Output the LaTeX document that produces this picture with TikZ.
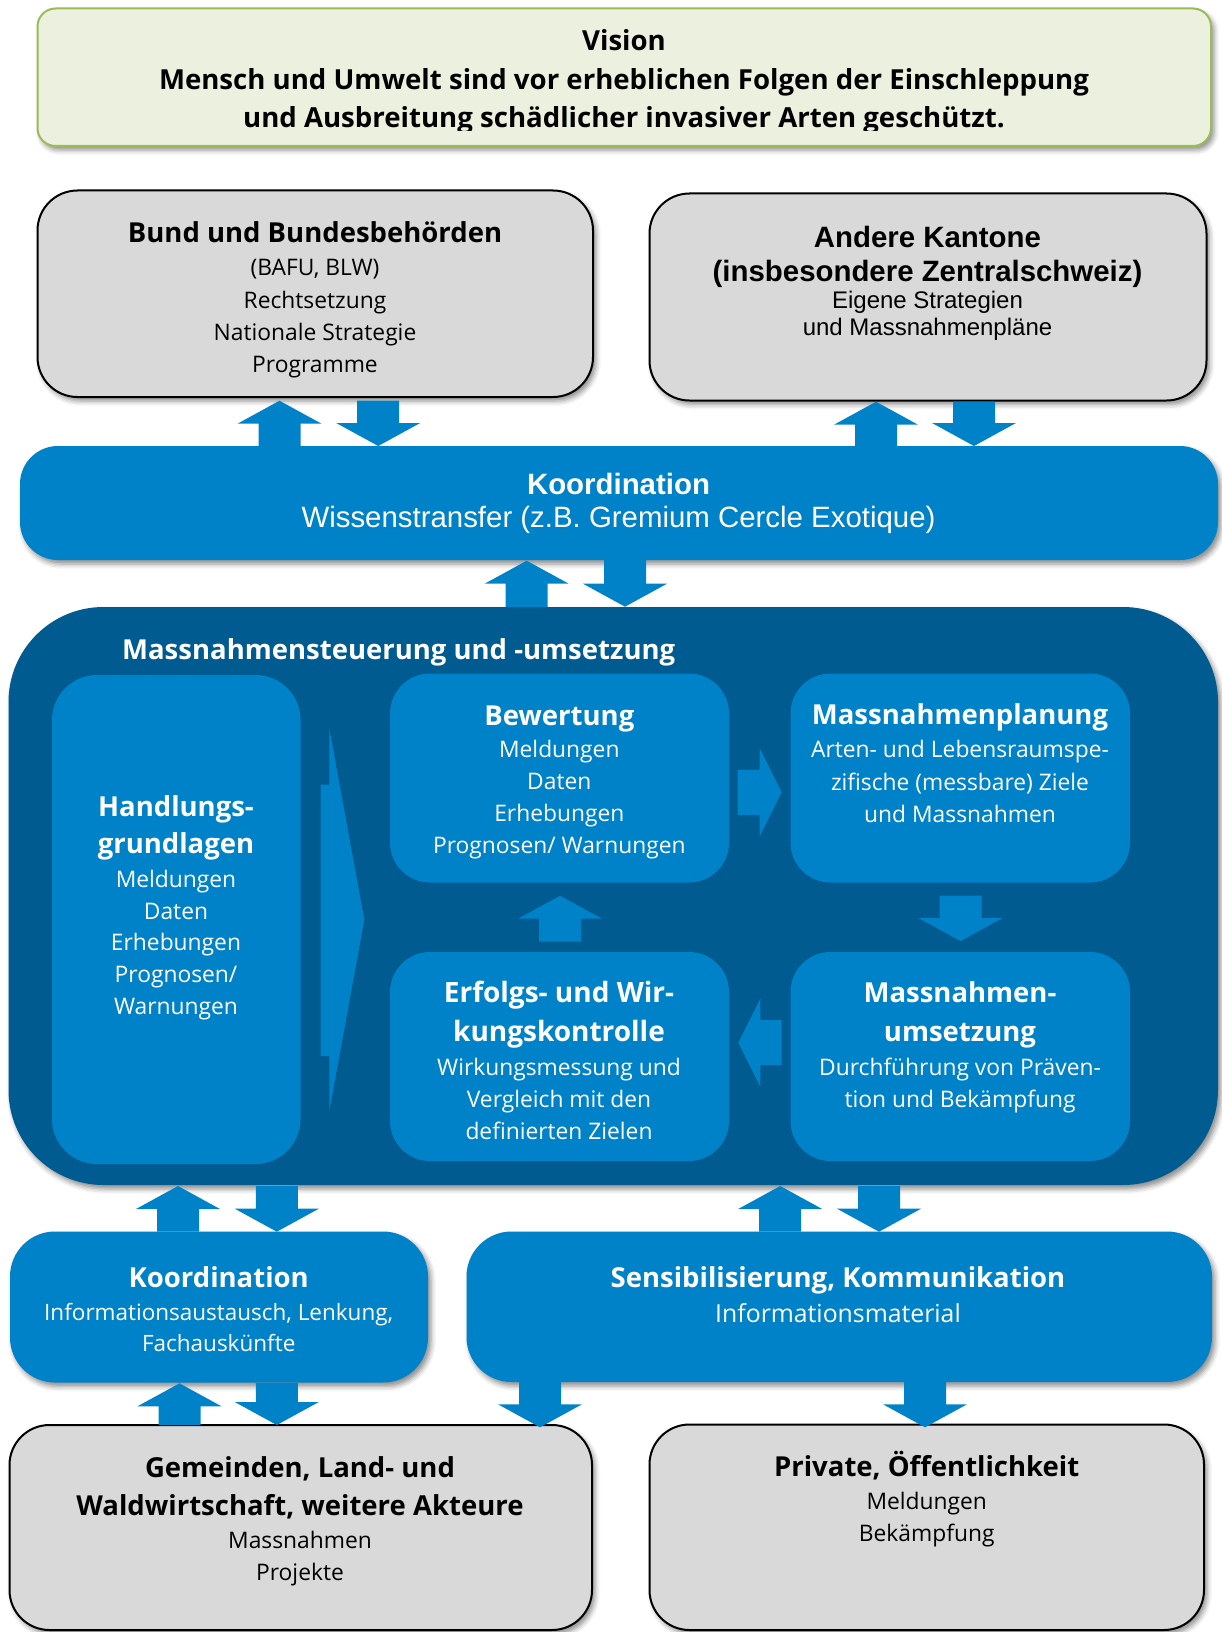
\documentclass[tikz,border=0pt]{standalone}
\usepackage{fontspec}
\setmainfont{Open Sans}
\newfontfamily\arialf{Liberation Sans}
\usetikzlibrary{shadows.blur}
\definecolor{lblue}{RGB}{0,130,200}
\definecolor{dblue}{RGB}{0,91,145}
\definecolor{gbox}{RGB}{217,217,217}
\definecolor{vfill}{RGB}{235,241,222}
\definecolor{vline}{RGB}{155,187,89}
\tikzset{
  sh/.style={blur shadow={shadow xshift=3pt, shadow yshift=-4pt, shadow blur radius=5pt, shadow opacity=45}},
  graybox/.style={draw=black, line width=2pt, fill=gbox, rounded corners=40pt, inner sep=0pt, sh},
  bluebox/.style={fill=lblue, inner sep=0pt},
  blk/.style={fill=lblue},
  ttl/.style={anchor=base, inner sep=0pt, font=\fontsize{27.5}{33}\selectfont\bfseries},
  reg/.style={anchor=base, inner sep=0pt, font=\fontsize{22.8}{28}\selectfont},
  vis/.style={anchor=base, inner sep=0pt, font=\fontsize{27.6}{32}\selectfont\bfseries},
  attl/.style={anchor=base, inner sep=0pt, font=\arialf\fontsize{29.4}{33}\selectfont\bfseries},
  areg/.style={anchor=base, inner sep=0pt, font=\arialf\fontsize{24}{28}\selectfont},
  wh/.style={text=white},
}
\newcommand\blkUp[3]{\fill[blk] (#1-21,#2) -- (#1-21,#3+23) -- (#1-42,#3+23) -- (#1,#3) -- (#1+42,#3+23) -- (#1+21,#3+23) -- (#1+21,#2) -- cycle;}
\newcommand\blkDn[3]{\fill[blk] (#1-21,#2) -- (#1-21,#3-23) -- (#1-42,#3-23) -- (#1,#3) -- (#1+42,#3-23) -- (#1+21,#3-23) -- (#1+21,#2) -- cycle;}
\newcommand\blkRt[3]{\fill[blk] (#2,#1-22.5) -- (#3-22,#1-22.5) -- (#3-22,#1-44) -- (#3,#1) -- (#3-22,#1+44) -- (#3-22,#1+22.5) -- (#2,#1+22.5) -- cycle;}
\newcommand\blkLt[3]{\fill[blk] (#2,#1-22.5) -- (#3+22,#1-22.5) -- (#3+22,#1-44) -- (#3,#1) -- (#3+22,#1+44) -- (#3+22,#1+22.5) -- (#2,#1+22.5) -- cycle;}
\begin{document}
\begin{tikzpicture}[x=1pt,y=-1pt]
\useasboundingbox (0,0) rectangle (1221,1632);

% Vision
\node[draw=vline, line width=2pt, fill=vfill, rounded corners=18pt, inner sep=0pt, minimum width=1173.5pt, minimum height=137.5pt, sh] (vision) at (624.25,77.25) {};
\begin{scope}
\clip (0,0) rectangle (1221,131);
\node[vis] (v1) at (624,51) {Vision};
\node[vis] (v2) at (624,89.4) {Mensch und Umwelt sind vor erheblichen Folgen der Einschleppung};
\node[vis] (v3) at (624,128) {und Ausbreitung schädlicher invasiver Arten geschützt.};
\end{scope}

% Bund
\node[graybox, minimum width=555.5pt, minimum height=206.5pt] (bund) at (315.25,293.75) {};
\node[ttl] (b1) at (315,242.9) {Bund und Bundesbehörden};
\node[reg] (b2) at (315,275.8) {(BAFU, BLW)};
\node[reg] (b3) at (315,308.1) {Rechtsetzung};
\node[reg] (b4) at (315,340.3) {Nationale Strategie};
\node[reg] (b5) at (315,372.3) {Programme};

% Andere Kantone
\node[graybox, minimum width=557pt, minimum height=207pt] (andere) at (928,297) {};
\node[attl] (a1) at (927.5,247) {Andere Kantone};
\node[attl] (a2) at (927.5,281.5) {(insbesondere Zentralschweiz)};
\node[areg] (a3) at (927.5,308.5) {Eigene Strategien};
\node[areg] (a4) at (927.5,335.5) {und Massnahmenpläne};

% Koordination band
\node[bluebox, rounded corners=38pt, minimum width=1198pt, minimum height=114pt, sh] (koord) at (619,503) {};
\node[attl, wh] (k1) at (618.5,494.4) {Koordination};
\node[areg, wh, font=\arialf\fontsize{29.4}{33}\selectfont] (k2) at (618.5,527.4) {Wissenstransfer (z.B. Gremium Cercle Exotique)};

% arrows top
\blkUp{279.5}{446}{400.7}
\blkDn{378.2}{400.7}{446}
\blkUp{876}{446}{401.7}
\blkDn{974}{401.7}{446}

% dark box
\node[fill=dblue, rounded corners=95pt, inner sep=0pt, minimum width=1209.5pt, minimum height=578pt, sh] (dark) at (613.25,896) {};
\node[ttl, wh, anchor=base west] (d1) at (122,659.4) {Massnahmensteuerung und -umsetzung};

\blkUp{526.7}{607}{560.7}
\blkDn{625}{560}{606.7}

% inner boxes
\node[bluebox, rounded corners=45pt, minimum width=248.5pt, minimum height=489pt] (handl) at (176.25,919.5) {};
\node[ttl, wh] (h1) at (176,816) {Handlungs-};
\node[ttl, wh] (h2) at (176,853.6) {grundlagen};
\node[reg, wh] (h3) at (176,887.5) {Meldungen};
\node[reg, wh] (h4) at (176,919) {Daten};
\node[reg, wh] (h5) at (176,950.7) {Erhebungen};
\node[reg, wh] (h6) at (176,982.2) {Prognosen/};
\node[reg, wh] (h7) at (176,1014) {Warnungen};

\fill[blk] (320.7,784.6) -- (329.3,784.6) -- (329.3,728.6) -- (364.3,919.6) -- (329.3,1111) -- (329.3,1056) -- (320.7,1056) -- cycle;

\node[bluebox, rounded corners=40pt, minimum width=339pt, minimum height=209pt] (bew) at (559.5,778) {};
\node[ttl, wh] (w1) at (559.3,725) {Bewertung};
\node[reg, wh] (w2) at (559.3,757.7) {Meldungen};
\node[reg, wh] (w3) at (559.3,789.5) {Daten};
\node[reg, wh] (w4) at (559.3,821.7) {Erhebungen};
\node[reg, wh] (w5) at (559.3,853.5) {Prognosen/ Warnungen};

\node[bluebox, rounded corners=40pt, minimum width=339.5pt, minimum height=209pt] (plan) at (960.25,778) {};
\node[ttl, wh] (p1) at (960,724.5) {Massnahmenplanung};
\node[reg, wh] (p2) at (960,757.7) {Arten- und Lebensraumspe-};
\node[reg, wh] (p3) at (960,790) {zifische (messbare) Ziele};
\node[reg, wh] (p4) at (960,822.5) {und Massnahmen};

\node[bluebox, rounded corners=40pt, minimum width=339pt, minimum height=209pt] (erf) at (559.5,1056.5) {};
\node[ttl, wh, font=\fontsize{28}{33}\selectfont\bfseries] (e1) at (559,1002.6) {Erfolgs- und Wir-};
\node[ttl, wh, font=\fontsize{28}{33}\selectfont\bfseries] (e2) at (559,1041) {kungskontrolle};
\node[reg, wh] (e3) at (559,1075.5) {Wirkungsmessung und};
\node[reg, wh] (e4) at (559,1107.3) {Vergleich mit den};
\node[reg, wh] (e5) at (559,1139.2) {definierten Zielen};

\node[bluebox, rounded corners=40pt, minimum width=339.5pt, minimum height=209pt] (ums) at (960.25,1056.5) {};
\node[ttl, wh] (u1) at (960,1002.6) {Massnahmen-};
\node[ttl, wh] (u2) at (960,1041) {umsetzung};
\node[reg, wh] (u3) at (960,1075) {Durchführung von Präven-};
\node[reg, wh] (u4) at (960,1107.3) {tion und Bekämpfung};

\blkRt{792.3}{737.7}{781.7}
\blkLt{1042.7}{781.7}{738.3}
\blkUp{560}{941.7}{895.7}
\blkDn{960.5}{895.7}{941}

% lower boxes
\node[bluebox, rounded corners=45pt, minimum width=418pt, minimum height=151pt, sh] (koord2) at (219,1307) {};
\node[ttl, wh] (c1) at (218.7,1287.2) {Koordination};
\node[reg, wh, font=\fontsize{22.5}{28}\selectfont] (c2) at (218.7,1320.3) {Informationsaustausch, Lenkung,};
\node[reg, wh, font=\fontsize{22.5}{28}\selectfont] (c3) at (218.7,1351.6) {Fachauskünfte};

\node[bluebox, rounded corners=45pt, minimum width=745.5pt, minimum height=150.5pt, sh] (sens) at (839.25,1306.75) {};
\node[ttl, wh] (s1) at (838,1287.2) {Sensibilisierung, Kommunikation};
\node[reg, wh, font=\fontsize{24.8}{30}\selectfont] (s2) at (838,1322) {Informationsmaterial};

\node[graybox, minimum width=582.5pt, minimum height=205pt] (gem) at (300.75,1527.5) {};
\node[ttl] (g1) at (300,1477.6) {Gemeinden, Land- und};
\node[ttl] (g2) at (300,1515.5) {Waldwirtschaft, weitere Akteure};
\node[reg] (g3) at (300,1548.5) {Massnahmen};
\node[reg] (g4) at (300,1580.5) {Projekte};

\node[graybox, minimum width=554.5pt, minimum height=205.5pt] (priv) at (926.75,1527.25) {};
\node[ttl] (r1) at (926.7,1476.7) {Private, Öffentlichkeit};
\node[reg] (r2) at (926.7,1509.5) {Meldungen};
\node[reg] (r3) at (926.7,1541) {Bekämpfung};

\blkUp{178}{1231.7}{1186}
\blkDn{276.8}{1186}{1231.7}
\blkUp{780.2}{1231.7}{1186}
\blkDn{879}{1186}{1231.7}
\blkUp{179.5}{1425}{1383.3}
\blkDn{276.8}{1383}{1425}
\blkDn{540}{1382}{1427.3}
\blkDn{925}{1382}{1427.3}
\end{tikzpicture}
\end{document}
